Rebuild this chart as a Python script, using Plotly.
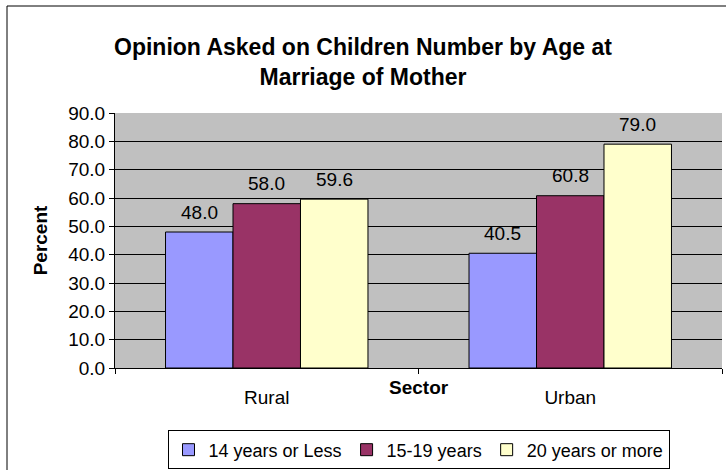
import plotly.graph_objs as go

# data
sectors = ["Rural", "Urban"]
age_groups = ["14 years or Less", "15-19 years", "20 years or more"]
pct_14_or_less = [48.0, 40.5]
pct_15_19 = [58.0, 60.8]
pct_20_plus = [59.6, 79.0]

colors = ["#9999FF", "#993366", "#FFFFCC"]
FONT = "Liberation Sans, Arial, sans-serif"

series = [pct_14_or_less, pct_15_19, pct_20_plus]

fig = go.Figure()
for name, vals, col in zip(age_groups, series, colors):
    fig.add_trace(go.Bar(x=sectors, y=vals, name=name,
                         marker_color=col,
                         marker_line_color="black", marker_line_width=1))

# value labels sit a little above each bar, like Excel does
bar_px = 67.5
for i, vals in enumerate(series):
    for cat, v in zip(sectors, vals):
        fig.add_annotation(x=cat, y=v, text=f"{v:.1f}", showarrow=False,
                           xshift=(i - 1) * bar_px, yshift=20, yanchor="middle",
                           font=dict(size=19, color="black"))

fig.update_layout(
    width=726, height=470,
    margin=dict(l=115, r=4, t=113, b=102, autoexpand=False),
    paper_bgcolor="white",
    plot_bgcolor="#C0C0C0",
    font=dict(family=FONT, size=19, color="black"),
    barmode="group", bargap=0.333, bargroupgap=0,
    title=dict(text="<b>Opinion Asked on Children Number by Age at<br>Marriage of Mother</b>",
               x=0.5, xanchor="center", y=0.882, yanchor="middle",
               font=dict(size=23, family=FONT)),
    legend=dict(orientation="h", x=0.5, xanchor="center",
                y=-0.245, yanchor="top",
                bordercolor="black", borderwidth=1,
                font=dict(size=18), itemwidth=30, tracegroupgap=0),
    showlegend=True,
)

fig.update_yaxes(range=[0, 90], dtick=10, tickformat=".1f",
                 showgrid=True, gridcolor="black", gridwidth=1,
                 ticks="outside", ticklen=5, tickcolor="black",
                 showline=True, linecolor="black", zeroline=False,
                 title=dict(text="<b>Percent</b>", font=dict(size=19), standoff=15))
fig.update_xaxes(ticks="outside", tickson="boundaries", ticklen=5, tickcolor="black",
                 showline=True, linecolor="black", ticklabelstandoff=12)

# x-axis title sits between the axis and the category labels
fig.add_annotation(text="<b>Sector</b>", x=0.5, y=-0.078, xref="paper", yref="paper",
                   showarrow=False, yanchor="middle", font=dict(size=19))

# outer chart border (only left and top visible in the crop)
fig.add_shape(type="rect", xref="paper", yref="paper",
              x0=(7 - 115) / 607, x1=1.2, y0=-0.5, y1=1 + (113 - 6) / 255,
              line=dict(color="black", width=1), layer="below")

fig.write_html("out.html", config={"displayModeBar": False},
               post_script="document.body.style.margin='0';")
